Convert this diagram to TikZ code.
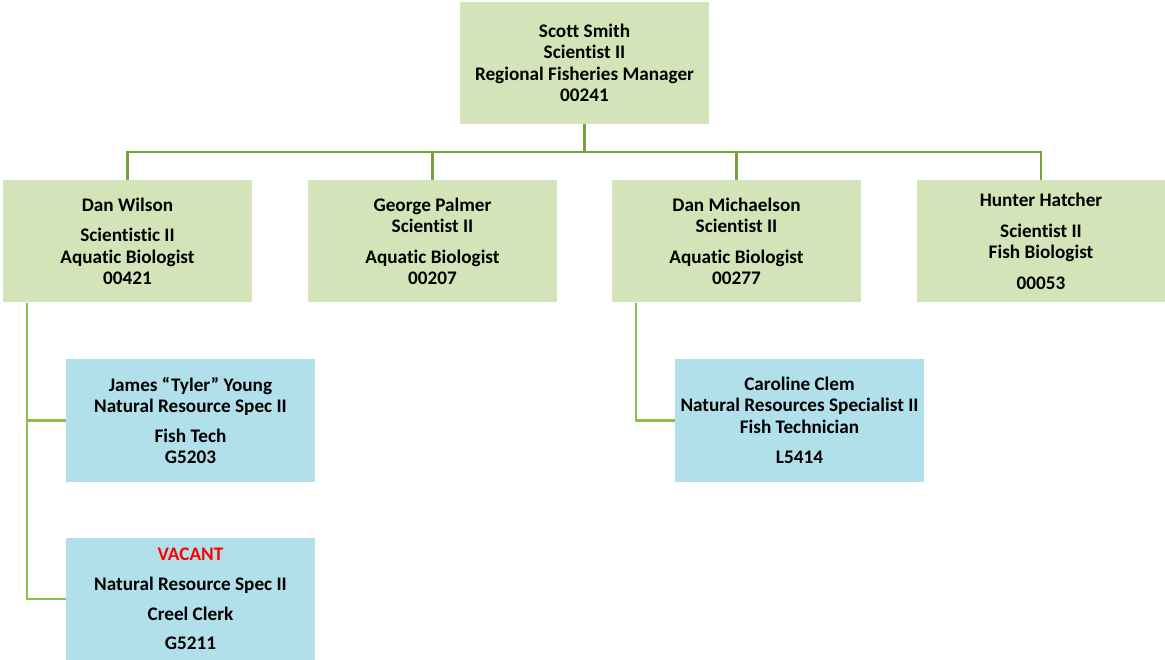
\documentclass[tikz,border=0pt]{standalone}
\usepackage{fontspec}
\setmainfont{Carlito}[Ligatures=NoCommon]
\definecolor{gbox}{HTML}{D3E5B8}
\definecolor{bbox}{HTML}{B1DFEA}
\definecolor{lnA}{HTML}{76A23C}
\definecolor{lnB}{HTML}{8CBE4B}
\definecolor{vac}{HTML}{FF0000}
\tikzset{
  card/.style={rectangle, minimum width=249pt, minimum height=122pt, inner sep=0pt,
    align=center, font=\fontsize{19.2}{21.5}\selectfont\bfseries},
  gcard/.style={card, fill=gbox},
  bcard/.style={card, fill=bbox},
  linkA/.style={draw=lnA, line width=2.6pt},
  linkB/.style={draw=lnB, line width=2.6pt},
}
\begin{document}
\begin{tikzpicture}[x=1pt,y=-1pt]
\useasboundingbox (0,0) rectangle (1165,660);
\node[gcard] (top) at (584.5,63) {Scott Smith\\Scientist II\\Regional Fisheries Manager\\00241};
\node[gcard] (dw) at (127.5,241.5) {Dan Wilson\\[9pt]Scientistic II\\Aquatic Biologist\\00421};
\node[gcard] (gp) at (432.5,241.5) {George Palmer\\Scientist II\\[9pt]Aquatic Biologist\\00207};
\node[gcard] (dm) at (736.5,241.5) {Dan Michaelson\\Scientist II\\[9pt]Aquatic Biologist\\00277};
\node[gcard] (hh) at (1041,241.5) {Hunter Hatcher\\[9pt]Scientist II\\Fish Biologist\\[9pt]00053};
\node[bcard] (jy) at (190.5,420.5) {James “Tyler” Young\\Natural Resource Spec II\\[8pt]Fish Tech\\G5203};
\node[bcard] (vc) at (190.5,599) {{\color{vac}VACANT}\\[9pt]Natural Resource Spec II\\[8pt]Creel Clerk\\[8pt]G5211};
\node[bcard] (cc) at (799.5,420.5) {Caroline Clem\\Natural Resources Specialist II\\Fish Technician\\[9pt]L5414};
\coordinate (bus) at (584.5,152);
\draw[linkA] (top.south) -- (bus);
\draw[linkA] (bus) -| (dw.north);
\draw[linkA] (bus) -| (gp.north);
\draw[linkA] (bus) -| (dm.north);
\draw[linkA] (bus) -| (hh.north);
\coordinate (dwl) at ([xshift=24pt]dw.south west);
\coordinate (dml) at ([xshift=24pt]dm.south west);
\draw[linkB] (dwl) |- (jy.west);
\draw[linkB] (dwl) |- (vc.west);
\draw[linkB] (dml) |- (cc.west);
\end{tikzpicture}
\end{document}
